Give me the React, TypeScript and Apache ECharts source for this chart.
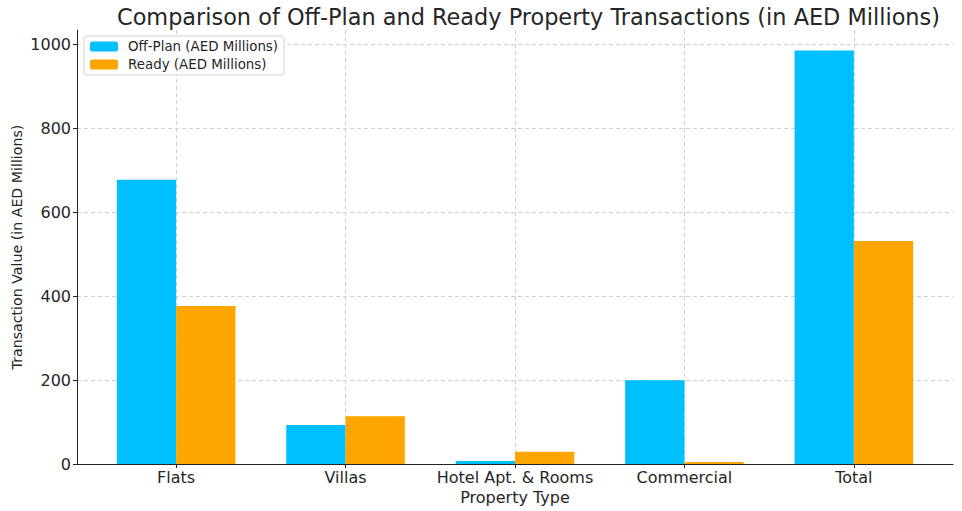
import React, { useEffect, useRef } from "react";
import * as echarts from "echarts";

const categories = ["Flats", "Villas", "Hotel Apt. & Rooms", "Commercial", "Total"];
const offPlan = [678, 93, 7, 200, 986];
const ready = [377, 114, 29, 5, 532];
const yTicks = [0, 200, 400, 600, 800, 1000];

const FONT = "DejaVu Sans";
const TXT = "#262626";

export default function App() {
  const ref = useRef<HTMLDivElement>(null);
  useEffect(() => {
    const chart = echarts.init(ref.current!, undefined, { renderer: "svg" });
    const yMax = 1035;
    const xMin = -0.585;
    const xMax = categories.length - 1 + 0.585;
    const plotL = 77, plotR = 953;
    const unit = (plotR - plotL) / (xMax - xMin);
    const bw = 0.35 * unit;
    chart.setOption({
      animation: false,
      backgroundColor: "#fff",
      textStyle: { fontFamily: FONT },
      title: {
        text: "Comparison of Off-Plan and Ready Property Transactions (in AED Millions)",
        left: 112,
        top: 1,
        textStyle: { fontFamily: FONT, fontSize: 22.4, fontWeight: "normal", color: TXT },
      },
      legend: {
        orient: "vertical",
        left: 84,
        top: 36,
        itemWidth: 28,
        itemHeight: 10,
        itemGap: 5,
        padding: [4, 6, 4, 6],
        borderColor: "#d0d0d0",
        borderWidth: 1,
        borderRadius: 3,
        backgroundColor: "#fff",
        textStyle: { fontFamily: FONT, fontSize: 13.4, color: TXT, padding: [0, 0, 0, 5] },
        data: ["Off-Plan (AED Millions)", "Ready (AED Millions)"],
      },
      grid: { left: plotL, right: 962 - plotR, top: 30, bottom: 47, containLabel: false, outerBoundsMode: "none" },
      xAxis: {
        type: "value",
        min: xMin,
        max: xMax,
        name: "Property Type",
        nameLocation: "middle",
        nameGap: 20,
        nameTextStyle: { fontFamily: FONT, fontSize: 16, color: TXT },
        axisLine: { show: true, onZero: false, lineStyle: { color: "#222", width: 1 } },
        axisTick: { show: true, length: 4, lineStyle: { color: "#222" } },
        axisLabel: {
          fontFamily: FONT,
          fontSize: 16,
          color: TXT,
          margin: 5,
          showMinLabel: false,
          showMaxLabel: false,
          formatter: (v: number) => (Number.isInteger(v) && categories[v] !== undefined ? categories[v] : ""),
        },
        splitLine: {
          show: true,
          showMinLine: false,
          showMaxLine: false,
          lineStyle: { color: "#d0d0d0", type: [4, 3], width: 1 },
        },
      },
      yAxis: {
        type: "value",
        min: 0,
        max: yMax,
        interval: 200,
        name: "Transaction Value (in AED Millions)",
        nameLocation: "middle",
        nameRotate: 90,
        nameGap: 53,
        nameMoveOverlap: false,
        nameTextStyle: { fontFamily: FONT, fontSize: 14.2, color: TXT },
        axisLine: { show: true, onZero: false, lineStyle: { color: "#222", width: 1 } },
        axisTick: { show: true, length: 4, lineStyle: { color: "#222" } },
        axisLabel: {
          fontFamily: FONT,
          fontSize: 16,
          color: TXT,
          margin: 6,
          showMaxLabel: false,
          formatter: (v: number) => (yTicks.includes(v) ? String(v) : ""),
        },
        splitLine: {
          show: true,
          showMinLine: false,
          showMaxLine: false,
          lineStyle: { color: "#d0d0d0", type: [4, 3], width: 1 },
        },
      },
      series: [
        {
          name: "Off-Plan (AED Millions)",
          type: "bar",
          data: offPlan.map((v, i) => [i, v]),
          barWidth: bw,
          barGap: "0%",
          itemStyle: { color: "#00BFFF" },
        },
        {
          name: "Ready (AED Millions)",
          type: "bar",
          data: ready.map((v, i) => [i, v]),
          barWidth: bw,
          barGap: "0%",
          itemStyle: { color: "#FFA500" },
        },
      ],
    });
    return () => chart.dispose();
  }, []);
  return <div ref={ref} style={{ width: 962, height: 511, position: "absolute", left: 0, top: 0 }} />;
}
